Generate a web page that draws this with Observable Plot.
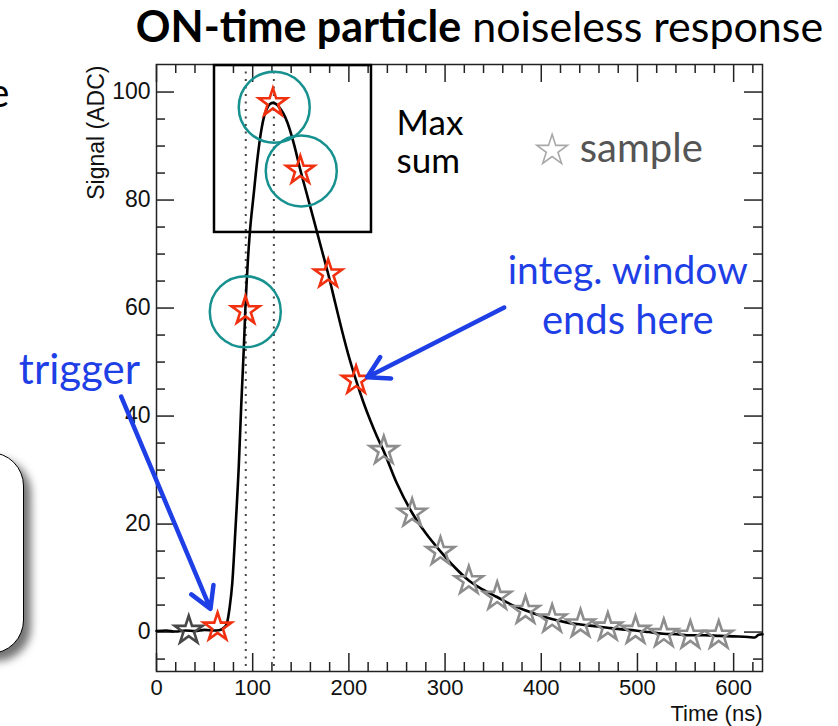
<!DOCTYPE html>
<html>
<head>
<meta charset="utf-8">
<script src="https://cdn.jsdelivr.net/npm/d3@7"></script>
<script src="https://cdn.jsdelivr.net/npm/@observablehq/plot@0.6"></script>
<style>
  body { margin: 0; background: #fff; }
  #wrap { position: relative; width: 838px; height: 726px; overflow: hidden; background: #fff; }
  #slidebox { position: absolute; left: -200px; top: 452px; width: 222px; height: 200px;
    border: 1.5px solid #000; border-radius: 34px; background: #fff;
    box-shadow: 7px 7px 9px rgba(0,0,0,0.55); }
  #title { position: absolute; left: 0; top: 4px; width: 838px; padding-left: 121px; box-sizing: border-box;
    text-align: center; font-family: Lato, "Open Sans", sans-serif; font-size: 43px; line-height: 43px; color: #000; white-space: nowrap; }
  #title b { font-weight: 700; }
  #chart { position: absolute; left: 0; top: 0; }
</style>
</head>
<body>
<div id="wrap">
  <div id="slidebox"></div>
  <div id="chart"></div>
  <div id="title"><b>ON-time particle</b> noiseless response</div>
</div>
<script>
// ---- data ----
const curveTime = [0, 10, 20, 30, 40, 50, 60, 66, 70, 73, 76, 78.7, 82, 85.6, 88, 90.8, 92.3, 95, 97, 101, 104.7, 109, 112, 115, 118, 121, 124, 128, 132, 136, 142.7, 149.5, 156, 164, 171, 178.5, 186, 193, 200, 207.5, 215, 222, 229, 236, 250, 266, 280, 295, 310, 325, 340, 354, 370, 384, 398, 411, 426, 441, 455, 469, 484, 498, 512, 527, 541, 555, 570, 585, 600, 615, 622, 626, 630];
const curveSignal = [0.2, 0.3, 0.1, 0.3, 0.2, 0.4, 0.3, 0.4, 0.8, 1.5, 4.5, 8.9, 18.8, 31, 41.6, 52.7, 59.5, 68.8, 73.9, 81, 87.3, 93, 95.6, 97, 97.8, 98, 97.8, 97.1, 96, 94.4, 90.5, 85.6, 81.3, 76, 71.3, 66.3, 60.8, 55.7, 51, 46.6, 42.6, 39.3, 36.3, 33.6, 27.5, 22, 18.3, 15, 12, 9.5, 7.8, 6.5, 5, 4, 3.1, 2.4, 1.8, 1.4, 1.1, 0.8, 0.5, 0.3, 0, -0.3, -0.4, -0.6, -0.6, -0.7, -0.8, -0.9, -1.0, -0.5, -0.4];

const sampleTime = [33.5, 63.5, 92.5, 121, 149.5, 178.5, 207.5, 236.3, 265.8, 295.2, 324.7, 354.2, 383.6, 411.3, 440.8, 469.2, 498, 527.4, 555, 584.5];
const sampleSignal = [0.3, 0.9, 59.5, 98.0, 85.5, 66.3, 46.6, 33.6, 22.0, 14.9, 9.5, 6.6, 4.0, 2.4, 1.5, 0.9, 0.3, -0.3, -0.6, -0.6];
const sampleGroup = ["pre", "window", "window", "window", "window", "window", "window",
  "post", "post", "post", "post", "post", "post", "post", "post", "post", "post", "post", "post", "post"];

const maxSumTime = [92.3, 122.4, 150.5];      // circled samples
const maxSumSignal = [59.3, 97.2, 85.4];
const windowMarkers = [92.8, 122.0];          // dotted vertical lines
const maxSumBox = {t1: 60.3, t2: 223.5, s1: 74, s2: 104.9};

const xMajorTicks = [0, 100, 200, 300, 400, 500, 600];
const xMinorTicks = [20, 40, 60, 80, 120, 140, 160, 180, 220, 240, 260, 280, 320, 340, 360, 380, 420, 440, 460, 480, 520, 540, 560, 580, 620];
const yMajorTicks = [0, 20, 40, 60, 80, 100];
const yMinorTicks = [-5, 5, 10, 15, 25, 30, 35, 45, 50, 55, 65, 70, 75, 85, 90, 95];

const arrowStartTime = [-36.7, 361.5];
const arrowStartSignal = [43.6, 60.1];
const arrowEndTime = [56.1, 219];
const arrowEndSignal = [4.3, 47.2];

// ---- build tables ----
const curve = curveTime.map((t, i) => ({t, s: curveSignal[i]}));
const samples = sampleTime.map((t, i) => ({t, s: sampleSignal[i], g: sampleGroup[i]}));
const circles = maxSumTime.map((t, i) => ({t, s: maxSumSignal[i]}));
const arrows = arrowStartTime.map((t, i) => ({t1: t, s1: arrowStartSignal[i], t2: arrowEndTime[i], s2: arrowEndSignal[i]}));

const W = 838, H = 726;
const mL = 156, mR = 76, mT = 64, mB = 55;
const fw = W - mL - mR, fh = H - mT - mB;
const blue = "#1f3fe6";
const starColor = {pre: "#474747", window: "#f0300f", post: "#8d8d8d"};
const ann = {fontFamily: "Lato, 'Open Sans', sans-serif"};

const chart = Plot.plot({
  width: W, height: H,
  marginLeft: mL, marginRight: mR, marginTop: mT, marginBottom: mB,
  x: {domain: [0, 630]},
  y: {domain: [-7.3, 105.1]},
  style: {fontFamily: "'Liberation Sans', Arial, sans-serif", fontSize: "23px", color: "#111", background: "transparent", overflow: "visible"},
  marks: [
    // ticks pointing inward on all four sides
    Plot.tickX(xMajorTicks, {x: d => d, insetTop: fh - 18, stroke: "#222", strokeWidth: 1.5}),
    Plot.tickX(xMinorTicks, {x: d => d, insetTop: fh - 9, stroke: "#222", strokeWidth: 1.5}),
    Plot.tickX(xMajorTicks, {x: d => d, insetBottom: fh - 18, stroke: "#222", strokeWidth: 1.5}),
    Plot.tickX(xMinorTicks, {x: d => d, insetBottom: fh - 9, stroke: "#222", strokeWidth: 1.5}),
    Plot.tickY(yMajorTicks, {y: d => d, insetRight: fw - 18, stroke: "#222", strokeWidth: 1.5}),
    Plot.tickY(yMinorTicks, {y: d => d, insetRight: fw - 9, stroke: "#222", strokeWidth: 1.5}),
    Plot.tickY(yMajorTicks, {y: d => d, insetLeft: fw - 18, stroke: "#222", strokeWidth: 1.5}),
    Plot.tickY(yMinorTicks, {y: d => d, insetLeft: fw - 9, stroke: "#222", strokeWidth: 1.5}),
    Plot.axisX({ticks: xMajorTicks, tickSize: 0, tickPadding: 8, label: null, fontSize: 22, tickFormat: d => String(d)}),
    Plot.axisY({ticks: yMajorTicks, tickSize: 0, tickPadding: 6, label: null, fontSize: 23, tickFormat: d => String(d)}),
    Plot.text(["Time (ns)"], {frameAnchor: "bottom-right", dy: 49, textAnchor: "end", lineAnchor: "bottom", fontSize: 22}),
    Plot.text(["Signal (ADC)"], {frameAnchor: "top-left", dx: -53, dy: 1, rotate: -90, textAnchor: "end", lineAnchor: "bottom", fontSize: 23}),
    Plot.frame({stroke: "#222", strokeWidth: 1.5}),
    // integration markers
    Plot.ruleX(windowMarkers, {x: d => d, stroke: "#444", strokeWidth: 2, strokeDasharray: "2,5.5"}),
    Plot.rect([maxSumBox], {x1: "t1", x2: "t2", y1: "s1", y2: "s2", fill: "none", stroke: "#000", strokeWidth: 2.5}),
    // response curve
    Plot.line(curve, {x: "t", y: "s", stroke: "#000", strokeWidth: 2.6, curve: "monotone-x"}),
    // samples
    Plot.dot(samples, {x: "t", y: "s", symbol: "star", r: 8.8, fill: "none", stroke: d => starColor[d.g], strokeWidth: 2.6}),
    Plot.dot(circles, {x: "t", y: "s", r: 35.5, fill: "none", stroke: "#17918f", strokeWidth: 2.5}),
    // legend
    Plot.dot([{t: 411.3, s: 89.2}], {x: "t", y: "s", symbol: "star", r: 9.6, fill: "none", stroke: "#a8a8a8", strokeWidth: 1.6}),
    Plot.text(["sample"], {x: () => 440, y: () => 87, textAnchor: "start", lineAnchor: "bottom", fill: "#555", fontSize: 40, ...ann}),
    // annotations
    Plot.text(["Max"], {x: () => 249.6, y: () => 92.1, textAnchor: "start", lineAnchor: "bottom", fill: "#000", fontSize: 35, ...ann}),
    Plot.text(["sum"], {x: () => 249.6, y: () => 85.1, textAnchor: "start", lineAnchor: "bottom", fill: "#000", fontSize: 35, ...ann}),
    Plot.text(["integ. window"], {x: () => 489.9, y: () => 64.5, textAnchor: "middle", lineAnchor: "bottom", fill: blue, fontSize: 39, ...ann}),
    Plot.text(["ends here"], {x: () => 489.9, y: () => 55.2, textAnchor: "middle", lineAnchor: "bottom", fill: blue, fontSize: 40, ...ann}),
    Plot.text(["trigger"], {x: () => -80.1, y: () => 46, textAnchor: "middle", lineAnchor: "bottom", fill: blue, fontSize: 42, ...ann}),
    Plot.text(["e"], {x: () => -152.9, y: () => 97.2, textAnchor: "end", lineAnchor: "bottom", fill: "#000", fontSize: 40, ...ann}),
    Plot.arrow(arrows, {x1: "t1", y1: "s1", x2: "t2", y2: "s2", stroke: blue, strokeWidth: 4.5, headLength: 8, headAngle: 60})
  ]
});
document.getElementById("chart").appendChild(chart);
</script>
</body>
</html>
